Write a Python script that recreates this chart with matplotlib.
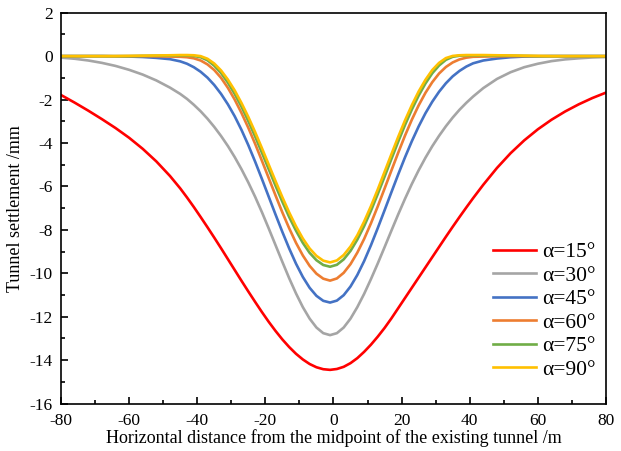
import matplotlib
matplotlib.use("Agg")
import matplotlib.pyplot as plt
from matplotlib.ticker import MultipleLocator

plt.rcParams['font.family'] = ['Liberation Serif', 'DejaVu Serif']
plt.rcParams['axes.unicode_minus'] = False

# horizontal distance (m)
x = [-80, -76, -72, -68, -64, -60, -56, -52, -48, -45,
     -43, -41, -39, -37, -35, -33, -31, -29, -27, -25, -23, -21, -19, -17, -15, -13, -11, -9, -7, -5, -3, -1,
     1, 3, 5, 7, 9, 11, 13, 15, 17, 19, 21, 23, 25, 27, 29, 31, 33, 35, 37, 39, 41,
     44, 48, 52, 56, 60, 64, 68, 72, 76, 80]

s15 = [-1.79, -2.14, -2.51, -2.90, -3.31, -3.76, -4.27, -4.85, -5.52, -6.09,
       -6.51, -6.95, -7.41, -7.88, -8.36, -8.85, -9.35, -9.85, -10.35, -10.84, -11.32, -11.79, -12.24, -12.66, -13.05, -13.40, -13.71, -13.97, -14.18, -14.33, -14.42, -14.45,
       -14.41, -14.31, -14.14, -13.91, -13.62, -13.29, -12.92, -12.52, -12.08, -11.61, -11.14, -10.67, -10.20, -9.73, -9.26, -8.79, -8.32, -7.86, -7.41, -6.97, -6.54,
       -5.92, -5.15, -4.47, -3.88, -3.37, -2.93, -2.55, -2.22, -1.93, -1.68]
s30 = [-0.07, -0.12, -0.20, -0.31, -0.45, -0.63, -0.85, -1.12, -1.45, -1.74,
       -1.97, -2.24, -2.54, -2.88, -3.26, -3.68, -4.14, -4.65, -5.21, -5.82, -6.48, -7.19, -7.94, -8.71, -9.48, -10.23, -10.93, -11.56, -12.09, -12.50, -12.76, -12.85,
       -12.76, -12.50, -12.09, -11.56, -10.95, -10.27, -9.55, -8.80, -8.04, -7.29, -6.57, -5.89, -5.26, -4.68, -4.15, -3.67, -3.23, -2.83, -2.47, -2.15, -1.86,
       -1.47, -1.05, -0.74, -0.51, -0.35, -0.23, -0.15, -0.10, -0.06, -0.04]
s45 = [0.0, 0.0, 0.0, 0.0, -0.01, -0.02, -0.04, -0.08, -0.14, -0.24,
       -0.35, -0.51, -0.72, -0.99, -1.33, -1.74, -2.22, -2.77, -3.40, -4.10, -4.86, -5.66, -6.48, -7.30, -8.10, -8.86, -9.56, -10.17, -10.67, -11.04, -11.27, -11.35,
       -11.26, -11.01, -10.61, -10.08, -9.44, -8.71, -7.92, -7.10, -6.27, -5.45, -4.66, -3.92, -3.24, -2.63, -2.10, -1.64, -1.25, -0.93, -0.68, -0.48, -0.33,
       -0.20, -0.11, -0.05, -0.02, -0.01, 0.0, 0.0, 0.0, 0.0, 0.0]
s60 = [0.0, 0.0, 0.0, 0.0, 0.0, 0.0, 0.0, -0.01, -0.02, -0.03,
       -0.05, -0.10, -0.20, -0.38, -0.64, -1.00, -1.46, -2.00, -2.62, -3.30, -4.04, -4.82, -5.62, -6.42, -7.20, -7.93, -8.60, -9.18, -9.66, -10.02, -10.25, -10.34,
       -10.24, -9.98, -9.58, -9.05, -8.42, -7.70, -6.92, -6.10, -5.27, -4.45, -3.66, -2.93, -2.27, -1.69, -1.20, -0.80, -0.50, -0.29, -0.15, -0.07, -0.03,
       -0.02, -0.01, 0.0, 0.0, 0.0, 0.0, 0.0, 0.0, 0.0, 0.0]
s75 = [0.0, 0.0, 0.0, 0.0, 0.0, 0.0, 0.01, 0.02, 0.02, 0.03,
       0.03, 0.01, -0.05, -0.19, -0.44, -0.78, -1.22, -1.74, -2.33, -2.99, -3.70, -4.45, -5.21, -5.97, -6.71, -7.41, -8.04, -8.60, -9.06, -9.40, -9.62, -9.70,
       -9.61, -9.36, -8.97, -8.45, -7.83, -7.12, -6.35, -5.55, -4.74, -3.94, -3.17, -2.46, -1.82, -1.26, -0.79, -0.43, -0.17, -0.03, 0.02, 0.03, 0.03,
       0.03, 0.02, 0.02, 0.01, 0.0, 0.0, 0.0, 0.0, 0.0, 0.0]
s90 = [0.0, 0.0, 0.0, 0.0, 0.0, 0.01, 0.02, 0.03, 0.04, 0.05,
       0.05, 0.04, 0.00, -0.12, -0.34, -0.66, -1.08, -1.58, -2.16, -2.80, -3.50, -4.24, -5.00, -5.76, -6.50, -7.20, -7.84, -8.40, -8.86, -9.20, -9.42, -9.50,
       -9.41, -9.16, -8.77, -8.25, -7.62, -6.91, -6.14, -5.33, -4.52, -3.72, -2.96, -2.26, -1.63, -1.09, -0.64, -0.31, -0.09, 0.01, 0.04, 0.05, 0.05,
       0.05, 0.04, 0.03, 0.02, 0.01, 0.0, 0.0, 0.0, 0.0, 0.0]

labels = ['α=15°', 'α=30°', 'α=45°', 'α=60°', 'α=75°', 'α=90°']
colors = ['#FF0000', '#A5A5A5', '#4472C4', '#ED7D31', '#70AD47', '#FFC000']
series = [s15, s30, s45, s60, s75, s90]

fig = plt.figure(figsize=(6.21, 4.51), dpi=100)
ax = fig.add_axes([0.0982, 0.1053, 0.8776, 0.8665])

for ys, c, lab in zip(series, colors, labels):
    ax.plot(x, ys, color=c, lw=1.9, label=lab, solid_joinstyle='round')

ax.set_xlim(-80, 80)
ax.set_ylim(-16, 2)
ax.xaxis.set_major_locator(MultipleLocator(20))
ax.xaxis.set_minor_locator(MultipleLocator(10))
ax.yaxis.set_major_locator(MultipleLocator(2))
ax.yaxis.set_minor_locator(MultipleLocator(1))
ax.tick_params(which='both', direction='in', top=False, right=False, labelsize=12.5, width=1.2)
ax.tick_params(which='major', length=5)
ax.tick_params(which='minor', length=3)
ax.tick_params(axis='x', which='major', pad=7)
ax.tick_params(axis='y', which='major', pad=6)
for sp in ax.spines.values():
    sp.set_linewidth(1.2)

ax.set_xlabel('Horizontal distance from the midpoint of the existing tunnel /m', fontsize=13, labelpad=0)
ax.set_ylabel('Tunnel settlement /mm', fontsize=13, labelpad=4)

ax.legend(loc='upper left', bbox_to_anchor=(0.777, 0.435), frameon=False, fontsize=15.5,
          handlelength=2.0, handletextpad=0.3, labelspacing=0.16, borderaxespad=0)

fig.savefig('out.png', dpi=100)
